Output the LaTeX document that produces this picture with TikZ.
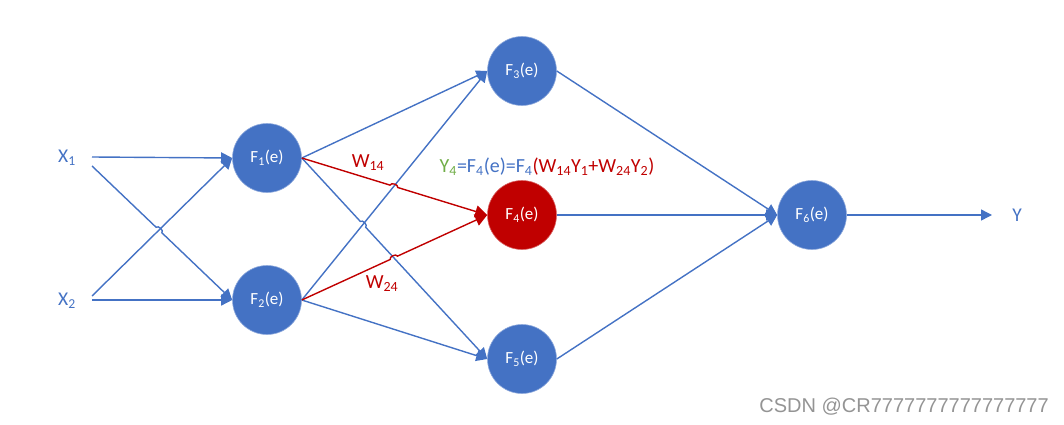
\documentclass[tikz,border=0pt]{standalone}
\usepackage{fontspec}
\setmainfont{Carlito}
\newfontfamily\wmfont{Liberation Sans}
\usetikzlibrary{arrows.meta,calc,intersections}
\definecolor{obl}{HTML}{4472C4}
\definecolor{ored}{HTML}{C00000}
\definecolor{ogr}{HTML}{70AD47}
\tikzset{
  neuron/.style={circle, fill=obl, draw=obl!60!white, line width=0.6pt, minimum size=69pt, inner sep=0pt, text=white, font=\fontsize{17}{20}\selectfont},
  link/.style={draw=obl, line width=1.4pt, -{Triangle[length=11pt,width=11pt]}},
  rlink/.style={draw=ored, line width=1.4pt, -{Triangle[length=12pt,width=12pt]}},
  inlabel/.style={text=obl, font=\fontsize{19.5}{23}\selectfont, inner sep=0pt},
  wlabel/.style={text=ored, font=\fontsize{20}{23}\selectfont, inner sep=0pt},
}
\begin{document}
\begin{tikzpicture}[x=1pt,y=1pt]
\useasboundingbox (0,0) rectangle (1064,424);
% nodes
\node[inlabel] (X1) at (67,266) {X\textsubscript{1}};
\node[inlabel] (X2) at (67,123) {X\textsubscript{2}};
\node[neuron] (F1) at (267,266) {F\textsubscript{1}(e)};
\node[neuron] (F2) at (267,124) {F\textsubscript{2}(e)};
\node[neuron] (F3) at (522,353) {F\textsubscript{3}(e)};
\node[neuron, fill=ored, draw=ored!60!white] (F4) at (522,209) {F\textsubscript{4}(e)};
\node[neuron] (F5) at (522,65) {F\textsubscript{5}(e)};
\node[neuron] (F6) at (812,209) {F\textsubscript{6}(e)};
\node[inlabel] (Y) at (1017,209) {Y};
\coordinate (x1a) at (92,267);
\coordinate (x1b) at (92,258);
\coordinate (x2a) at (92,128);
\coordinate (x2b) at (92,124);
\coordinate (yend) at (992,209);
% straight reference paths for crossings
\path[name path=pX2F1] (x2a) -- (F1.west);
\path[name path=pX1F2] (x1b) -- (F2.west);
\path[name path=pF2F3] (F2.east) -- (F3.west);
\path[name path=pF1F4] (F1.east) -- (F4.west);
\path[name path=pF1F5] (F1.east) -- (F5.west);
\path[name path=pF2F4] (F2.east) -- (F4.west);
\path[name intersections={of=pX2F1 and pX1F2, by=h1}];
\path[name intersections={of=pF2F3 and pF1F4, by=h2}];
\path[name intersections={of=pF2F3 and pF1F5, by=h3}];
\path[name intersections={of=pF1F5 and pF2F4, by=h4}];
% input connectors
\draw[link] (x1a) -- (F1.west);
\draw[link] (x2a) -- (F1.west);
\draw[link] (x2b) -- (F2.west);
\draw[link] (x1b) -- ($(h1)!4pt!(x1b)$) to[bend left=90] ($(h1)!4pt!(F2.west)$) -- (F2.west);
% hidden layer connectors
\draw[link] (F1.east) -- (F3.west);
\draw[link] (F2.east) -- (F3.west);
\draw[link] (F2.east) -- (F5.west);
\draw[link] (F1.east) -- ($(h3)!4pt!(F1.east)$) to[bend left=90] ($(h3)!4pt!(F5.west)$) -- (F5.west);
\draw[rlink] (F1.east) -- ($(h2)!4pt!(F1.east)$) to[bend left=90] ($(h2)!4pt!(F4.west)$) -- (F4.west);
\draw[rlink] (F2.east) -- ($(h4)!4pt!(F2.east)$) to[bend left=90] ($(h4)!4pt!(F4.west)$) -- (F4.west);
% output connectors
\draw[link] (F3.east) -- (F6.west);
\draw[link] (F4.east) -- (F6.west);
\draw[link] (F5.east) -- (F6.west);
\draw[link] (F6.east) -- (yend);
% labels
\node[wlabel] (w14) at (368,261) {W\textsubscript{14}};
\node[wlabel] (w24) at (382,140) {W\textsubscript{24}};
\node[inner sep=0pt, font=\fontsize{20}{23}\selectfont] (eq) at (547,257)
  {\textcolor{ogr}{Y\textsubscript{4}}\textcolor{obl}{=F\textsubscript{4}(e)=F\textsubscript{4}}\textcolor{ored}{(W\textsubscript{14}Y\textsubscript{1}+W\textsubscript{24}Y\textsubscript{2})}};
\node[anchor=east, inner sep=0pt, text=black!42, font=\wmfont\fontsize{20}{23}\selectfont] (wm) at (1049,17) {CSDN @CR7777777777777777};
\end{tikzpicture}
\end{document}
